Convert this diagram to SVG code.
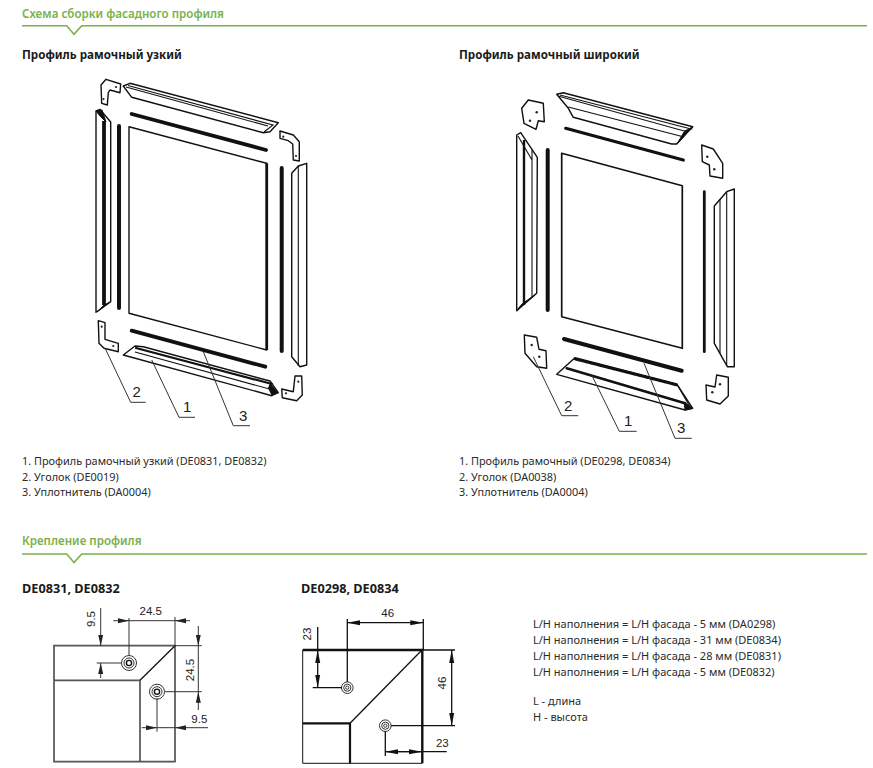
<svg xmlns="http://www.w3.org/2000/svg" width="873" height="768" viewBox="0 0 873 768">
<style>
text{font-family:"Noto Sans","Open Sans","Liberation Sans",sans-serif;fill:#222}
.h{font-size:11.6px;font-weight:600;fill:#7bb04a}
.b{font-size:11.6px;font-weight:700;fill:#1a1a1a}
.c{font-size:12.7px;font-weight:700;fill:#1a1a1a}
.t{font-size:10.9px;fill:#2a2a2a}
.u{font-size:11px;fill:#2a2a2a}
.n{font-size:15px;fill:#222;font-family:"Liberation Sans",sans-serif}
.d{font-size:11.5px;fill:#222;font-family:"Liberation Sans",sans-serif}
.g{fill:none;stroke:#7bb04a;stroke-width:1.6}
.o{fill:#fff;stroke:#111;stroke-width:1.4;stroke-linejoin:round}
.l{fill:none;stroke:#111;stroke-width:1.1}
.s{fill:none;stroke:#111;stroke-linecap:round}
.e{fill:none;stroke:#333;stroke-width:1}
.m{fill:none;stroke:#555;stroke-width:1.7}
.k{fill:none;stroke:#111;stroke-width:1.3}
.w{fill:#222}
</style>
<defs>
<marker id="a" markerUnits="userSpaceOnUse" markerWidth="14" markerHeight="6" refX="13" refY="3" orient="auto-start-reverse"><path d="M0 .5 13 3 0 5.500z" fill="#111"/></marker>
<marker id="b" markerUnits="userSpaceOnUse" markerWidth="12" markerHeight="6" refX="11" refY="3" orient="auto-start-reverse"><path d="M0 .5 11 3 0 5.500z" fill="#222"/></marker>
</defs>

<g id="section-header-1">
<text class="h" x="22" y="18">Схема сборки фасадного профиля</text>
<path class="g" d="M22 25.700H66.700L74 34.300 81.700 25.700H867"/>
</g>
<g id="section-header-2">
<text class="h" x="22" y="545">Крепление профиля</text>
<path class="g" d="M22 554H66.700L74 562.600 81.700 554H867"/>
</g>
<text class="b" x="22" y="59">Профиль рамочный узкий</text>
<text class="b" x="459" y="59">Профиль рамочный широкий</text>

<g id="narrow-panel"><path class="o" d="M129 126.700 266.700 163.300V350L129 313.300Z"/><path d="M266.700 163.300V350" stroke="#111" stroke-width="2.800"/></g>
<g id="narrow-seals">
<path class="s" stroke-width="3.800" d="M131.700 114 266 150M131.700 330.700 265.300 366.700"/>
<path class="s" stroke-width="4" stroke-linecap="butt" d="M119 126V308M281.700 168V351"/>
</g>
<g id="narrow-rail-top"><path class="o" d="M123.300 86 130 83.300 278.300 122.700 270 131.700 263.300 132.700 131.700 97.300Z"/><path class="l" d="M128 85.500 273 125 264 132M126 87 268 126"/></g>
<g id="narrow-rail-bottom"><path class="o" d="M123.300 355 135 346 143.300 346.700 270 381 278.300 392.700 271.700 395.700Z"/><path class="s" stroke-width="2.200" d="M136 348 272 384"/><path class="l" d="M135 352 273 390"/><path d="M270 383 278.300 392.700 271.700 395.700 268 388Z" fill="#111"/></g>
<g id="narrow-rail-left"><path class="o" d="M96 111 100 109.500 110.700 122V301.700L96 312.300Z"/><path d="M104 121V305" stroke="#111" stroke-width="3.800"/><path d="M96 111 102 110 106 122 100 116ZM97 312 110 302 104 305Z" fill="#111" stroke="#111"/></g>
<g id="narrow-rail-right"><path class="o" d="M291.700 173.300 298.300 166 306.700 163.300V365L300 366.700 291.700 356.700Z"/><path class="l" d="M298.300 166V366"/></g>
<g id="narrow-bracket-tl"><path class="o" d="M106 79.300 120.700 84 120 92.700 110 90 108.300 92.700 107.300 105 101.700 103.300 101 85Z"/><circle class="w" cx="103.500" cy="99" r="1.100"/><circle class="w" cx="116" cy="87" r="1.100"/></g>
<g id="narrow-bracket-tr"><path class="o" d="M280 131 293.300 135 299.300 141.700V161L293.300 160 292.700 144 288.300 140.700 280 138.300Z"/><circle class="w" cx="283.300" cy="136.700" r="1.100"/><circle class="w" cx="296" cy="156" r="1.100"/></g>
<g id="narrow-bracket-bl"><path class="o" d="M98.300 320.700 105 322.700V339.300L118.300 343.300V351.700L104 348.300 99 343.300Z"/><circle class="w" cx="101.700" cy="326.700" r="1.100"/><circle class="w" cx="113.300" cy="346" r="1.100"/></g>
<g id="narrow-bracket-br"><path class="o" d="M281.700 389 293.300 391.700 295 376H301.700L302.300 395 296.700 400.700 282.300 397.700Z"/><circle class="w" cx="286" cy="393.300" r="1.100"/><circle class="w" cx="298.300" cy="381.700" r="1.100"/></g>

<g id="wide-panel"><path class="o" style="stroke-width:1.700" d="M561.700 153.300 682.300 185.700V348.300L561.700 316.700Z"/></g>
<g id="wide-seals">
<path class="s" stroke-width="3.200" d="M565.700 128.300 683.300 160"/>
<path class="s" stroke-width="4" d="M564 339 681.700 370.700"/>
<path class="s" stroke-linecap="butt" stroke-width="4" d="M547.700 150V310"/>
<path class="s" stroke-linecap="butt" stroke-width="2.800" d="M704.300 191.700V351.700"/>
</g>
<g id="wide-rail-top"><path class="o" d="M556.700 94.300 563.300 92.700 692.700 126.700 684 136 676.700 144H671.700L573.300 117.300 568.300 108.300Z"/><path class="l" d="M560 95 691 129 684 131 558 96M568.300 107 684 137"/><path d="M684 132 692.700 126.700 677 144Z" fill="#111" stroke="#111"/></g>
<g id="wide-rail-bottom"><path class="o" d="M556.700 374.300 575 357.700 676.700 384 692.700 408.300 685 410Z"/><path class="s" stroke-width="2.800" stroke-dasharray="2.500 .8" stroke-linecap="butt" d="M575 359 677 385"/><path class="s" stroke-width="2.600" d="M566.700 368.300 685 403.300"/><path class="l" d="M678 386 690 407"/><path d="M684 402 692.700 408.300 685 410Z" fill="#111" stroke="#111"/></g>
<g id="wide-rail-left"><path class="o" d="M516.700 135 520.700 132.700 537.300 157.300 536.700 293.300 516.700 310.700Z"/><path d="M524 140V305" stroke="#111" stroke-width="2.400"/><path class="l" d="M532 150V298M518 136 532 160"/><path d="M517 310 536 294 522 304Z" fill="#111" stroke="#111"/></g>
<g id="wide-rail-right"><path class="o" d="M714.300 206 726.700 191.700 734.300 189V366.700H727.300L714.300 343.300Z"/><path class="l" d="M720 199V353M726.700 192V366"/></g>
<g id="wide-plate-tl"><path class="o" d="M528.300 100 543.300 103.300 544.300 121.700 538.300 120.700 536 129.300 524 123.300 521.700 108.300Z"/><circle class="w" cx="536.700" cy="112.300" r="1.200"/><circle class="w" cx="530" cy="120.700" r="1.200"/></g>
<g id="wide-plate-tr"><path class="o" d="M701.700 145 713.300 149 722.700 163.300V178.300L710 176 709.300 165 702.300 161.700Z"/><circle class="w" cx="707.300" cy="156.700" r="1.200"/><circle class="w" cx="714.300" cy="169.300" r="1.200"/></g>
<g id="wide-plate-bl"><path class="o" d="M524.300 335 536.700 337.300 539 349.300 546 350.700 546.700 368.300 536.700 366.700 525 353.300Z"/><circle class="w" cx="531.700" cy="345" r="1.200"/><circle class="w" cx="539.300" cy="356.700" r="1.200"/></g>
<g id="wide-plate-br"><path class="o" d="M706 385 715 387 716.700 375 728.300 377.300V396L720 404 706.700 400Z"/><circle class="w" cx="720" cy="384.300" r="1.200"/><circle class="w" cx="712.300" cy="392.300" r="1.200"/></g>

<g id="connectors">
<path class="e" d="M105 348 130.700 402.300H145.700M151.700 360 179 417.300H195M203.300 351.700 233.300 425.700H250"/>
<path class="e" d="M533.300 356.700 561.700 415.700H578.300M591.700 375 619.300 431.300H636.700M644 363.300 675 438.300H691.700"/>
</g>
<g id="callouts">
<text class="n" x="132.500" y="397">2</text><text class="n" x="183" y="412">1</text><text class="n" x="239" y="421">3</text>
<text class="n" x="564" y="411">2</text><text class="n" x="624" y="426">1</text><text class="n" x="677" y="432.500">3</text>
</g>

<g id="legend-narrow">
<text class="t" x="22" y="465">1. Профиль рамочный узкий (DE0831, DE0832)</text>
<text class="t" x="22" y="481">2. Уголок (DE0019)</text>
<text class="t" x="22" y="496">3. Уплотнитель (DA0004)</text>
</g>
<g id="legend-wide">
<text class="t" x="459" y="465">1. Профиль рамочный (DE0298, DE0834)</text>
<text class="t" x="459" y="481">2. Уголок (DA0038)</text>
<text class="t" x="459" y="496">3. Уплотнитель (DA0004)</text>
</g>

<text class="c" x="22" y="593">DE0831, DE0832</text>
<text class="c" x="301" y="593">DE0298, DE0834</text>

<g id="detail-narrow">
<path class="m" d="M54 645.700H175V761.700H54ZM54 680.300H140V761.700"/>
<path class="k" d="M140 680.300 175 645.700"/>
<circle class="e" cx="129" cy="663" r="7.500"/><circle class="e" cx="129" cy="663" r="5"/><circle fill="none" stroke="#111" stroke-width="1.400" cx="129" cy="663" r="2.600"/>
<circle class="e" cx="157" cy="691.700" r="7.500"/><circle class="e" cx="157" cy="691.700" r="5"/><circle fill="none" stroke="#111" stroke-width="1.400" cx="157" cy="691.700" r="2.600"/>
<path class="e" d="M129 618V655M175 617V645.700M96.700 663H121M175 645.700H201.700M165 691.700H201.700M157 698V731.700"/>
<path class="e" d="M113.300 620.700H118M186 620.700H190M100.700 608V613M100.700 674V678M198.300 626V630M198.300 706V710M141.700 727.700H146M187 727.700H208"/>
<path class="e" d="M118 620.700H129" marker-end="url(#b)"/>
<path class="e" d="M186 620.700H175" marker-end="url(#b)"/>
<path class="e" d="M129 620.700H175"/>
<path class="e" d="M100.700 613V645.700" marker-end="url(#b)"/>
<path class="e" d="M100.700 674V663" marker-end="url(#b)"/>
<path class="e" d="M198.300 630V645.700" marker-end="url(#b)"/>
<path class="e" d="M198.300 706V691.700" marker-end="url(#b)"/>
<path class="e" d="M198.300 645.700V691.700"/>
<path class="e" d="M146 727.700H157" marker-end="url(#b)"/>
<path class="e" d="M187 727.700H175" marker-end="url(#b)"/>
<path class="e" d="M157 727.700H175"/>
<text class="d" x="150.700" y="615" text-anchor="middle">24.5</text>
<text class="d" text-anchor="middle" transform="translate(94.500 619) rotate(-90)">9.5</text>
<text class="d" text-anchor="middle" transform="translate(194 670) rotate(-90)">24.5</text>
<text class="d" x="199.300" y="723" text-anchor="middle">9.5</text>
</g>

<g id="detail-wide">
<path d="M302.700 650V763.300H422.300" fill="none" stroke="#111" stroke-width="1"/>
<path d="M302.700 650H422.300V763.300" fill="none" stroke="#111" stroke-width="2.400"/>
<path d="M302.700 723.300H350V763.300" fill="none" stroke="#111" stroke-width="2.200"/>
<path class="k" d="M350 723.300 421 651"/>
<circle class="e" cx="347.300" cy="687.700" r="5.800"/><circle class="e" cx="347.300" cy="687.700" r="3.600"/><circle class="e" cx="347.300" cy="687.700" r="1.600"/>
<circle class="e" cx="385.300" cy="725.700" r="5.800"/><circle class="e" cx="385.300" cy="725.700" r="3.600"/><circle class="e" cx="385.300" cy="725.700" r="1.600"/>
<path class="k" d="M347.300 619V682M423.300 619V650M317.700 627V650M312.700 687.700H342M422 650H455M391 725.700H455M385.300 731V756M385.300 751.700H446.700"/>
<path class="k" d="M347.300 622.700H423.300" marker-start="url(#a)" marker-end="url(#a)"/>
<path class="k" d="M317.700 650V687.700" marker-start="url(#a)" marker-end="url(#a)"/>
<path class="k" d="M451.700 650V725.700" marker-start="url(#a)" marker-end="url(#a)"/>
<path class="k" d="M385.300 751.700H422" marker-start="url(#a)" marker-end="url(#a)"/>
<text class="d" x="387.700" y="617" text-anchor="middle">46</text>
<text class="d" text-anchor="middle" transform="translate(311 634) rotate(-90)">23</text>
<text class="d" text-anchor="middle" transform="translate(445.500 683) rotate(-90)">46</text>
<text class="d" x="442.300" y="746.700" text-anchor="middle">23</text>
</g>

<g id="notes">
<text class="u" x="533" y="628">L/H наполнения = L/H фасада - 5 мм (DA0298)</text>
<text class="u" x="533" y="644">L/H наполнения = L/H фасада - 31 мм (DE0834)</text>
<text class="u" x="533" y="660">L/H наполнения = L/H фасада - 28 мм (DE0831)</text>
<text class="u" x="533" y="676">L/H наполнения = L/H фасада - 5 мм (DE0832)</text>
<text class="u" x="533" y="705">L - длина</text>
<text class="u" x="533" y="721">H - высота</text>
</g>
</svg>
